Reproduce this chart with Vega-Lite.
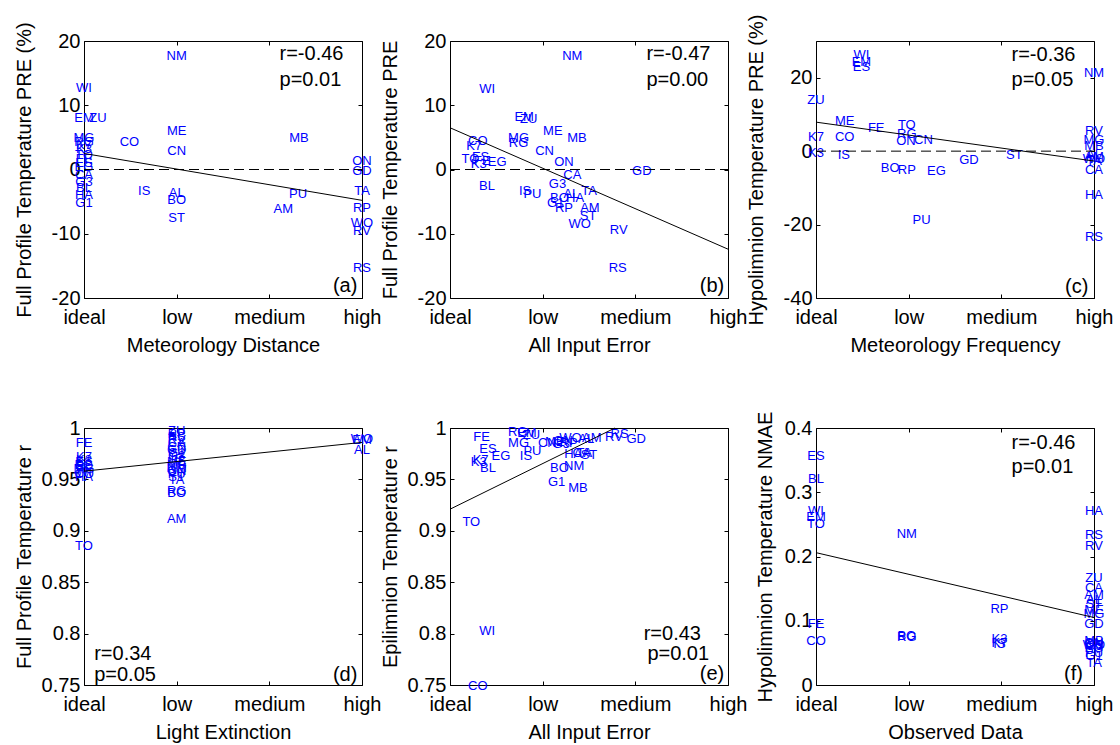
{
  "$schema": "https://vega.github.io/schema/vega-lite/v6.json",
  "padding": {"left": 13, "top": 13, "right": 0, "bottom": 0},
  "background": "white",
  "bounds": "flush",
  "spacing": {"row": 130, "column": 88},
  "columns": 3,
  "datasets": {
    "a": [
      {"site":"WI","x":0,"y":12.7},{"site":"EM","x":0,"y":8.0},{"site":"MG","x":0,"y":4.9},{"site":"RG","x":0,"y":4.3},
      {"site":"K7","x":0,"y":3.8},{"site":"K3","x":0,"y":3.2},{"site":"TO","x":0,"y":2.2},{"site":"FE","x":0,"y":1.6},
      {"site":"ES","x":0,"y":1.0},{"site":"EG","x":0,"y":0.4},{"site":"CA","x":0,"y":-0.9},{"site":"G3","x":0,"y":-2.0},
      {"site":"BL","x":0,"y":-2.9},{"site":"HA","x":0,"y":-3.9},{"site":"G1","x":0,"y":-5.2},
      {"site":"ZU","x":0.15,"y":8.0},{"site":"CO","x":0.49,"y":4.3},{"site":"IS","x":0.65,"y":-3.4},
      {"site":"NM","x":1,"y":17.7},{"site":"ME","x":1,"y":6.0},{"site":"CN","x":1,"y":2.9},{"site":"AL","x":1,"y":-3.6},
      {"site":"BO","x":1,"y":-4.8},{"site":"ST","x":1,"y":-7.5},
      {"site":"MB","x":2.32,"y":4.9},{"site":"PU","x":2.31,"y":-3.8},{"site":"AM","x":2.15,"y":-6.1},
      {"site":"ON","x":3,"y":1.4},{"site":"GD","x":3,"y":-0.3},{"site":"TA","x":3,"y":-3.3},{"site":"RP","x":3,"y":-6.0},
      {"site":"WO","x":3,"y":-8.3},{"site":"RV","x":3,"y":-9.5},{"site":"RS","x":3,"y":-15.3}
    ],
    "b": [
      {"site":"NM","x":1.32,"y":17.7},{"site":"WI","x":0.40,"y":12.6},{"site":"EM","x":0.80,"y":8.2},{"site":"ZU","x":0.85,"y":7.8},
      {"site":"ME","x":1.11,"y":6.0},{"site":"MB","x":1.37,"y":4.9},{"site":"MG","x":0.74,"y":4.9},{"site":"RG","x":0.74,"y":4.2},
      {"site":"CO","x":0.30,"y":4.4},{"site":"K7","x":0.26,"y":3.6},{"site":"CN","x":1.02,"y":2.9},{"site":"ON","x":1.23,"y":1.2},
      {"site":"TO","x":0.22,"y":1.6},{"site":"ES","x":0.33,"y":2.0},{"site":"FE","x":0.35,"y":1.4},{"site":"EG","x":0.51,"y":1.2},
      {"site":"K3","x":0.31,"y":0.8},{"site":"BL","x":0.40,"y":-2.6},{"site":"GD","x":2.07,"y":-0.3},{"site":"CA","x":1.32,"y":-0.8},
      {"site":"G3","x":1.16,"y":-2.2},{"site":"IS","x":0.81,"y":-3.3},{"site":"PU","x":0.89,"y":-3.8},{"site":"TA","x":1.50,"y":-3.4},
      {"site":"AL","x":1.31,"y":-3.8},{"site":"HA","x":1.35,"y":-4.4},{"site":"BO","x":1.18,"y":-4.4},{"site":"G1","x":1.14,"y":-5.2},
      {"site":"RP","x":1.23,"y":-6.0},{"site":"AM","x":1.51,"y":-6.0},{"site":"ST","x":1.49,"y":-7.3},{"site":"WO","x":1.40,"y":-8.5},
      {"site":"RV","x":1.82,"y":-9.4},{"site":"RS","x":1.81,"y":-15.3}
    ],
    "c": [
      {"site":"WI","x":0.49,"y":26.2},{"site":"EM","x":0.49,"y":24.4},{"site":"ES","x":0.49,"y":23.0},{"site":"NM","x":3,"y":21.3},
      {"site":"ZU","x":0,"y":14.0},{"site":"ME","x":0.31,"y":8.1},{"site":"FE","x":0.65,"y":6.3},{"site":"TO","x":0.98,"y":7.1},
      {"site":"RG","x":0.98,"y":4.7},{"site":"ON","x":0.97,"y":2.7},{"site":"CN","x":1.16,"y":2.9},{"site":"K7","x":0,"y":3.9},
      {"site":"CO","x":0.31,"y":3.8},{"site":"K3","x":0,"y":-0.5},{"site":"IS","x":0.30,"y":-1.1},{"site":"BO","x":0.80,"y":-4.7},
      {"site":"RP","x":0.98,"y":-5.2},{"site":"EG","x":1.30,"y":-5.4},{"site":"GD","x":1.65,"y":-2.3},{"site":"ST","x":2.14,"y":-1.1},
      {"site":"PU","x":1.14,"y":-18.8},{"site":"RV","x":3,"y":5.4},{"site":"MG","x":3,"y":2.9},{"site":"MB","x":3,"y":1.3},
      {"site":"AL","x":3,"y":-1.0},{"site":"AM","x":3,"y":-1.6},{"site":"WO","x":3,"y":-2.2},{"site":"TA","x":3,"y":-2.8},
      {"site":"CA","x":3,"y":-5.2},{"site":"HA","x":3,"y":-11.9},{"site":"RS","x":3,"y":-23.3}
    ],
    "d": [
      {"site":"FE","x":0,"y":0.985},{"site":"K7","x":0,"y":0.972},{"site":"K3","x":0,"y":0.969},{"site":"ES","x":0,"y":0.967},
      {"site":"EG","x":0,"y":0.964},{"site":"BL","x":0,"y":0.962},{"site":"MG","x":0,"y":0.960},{"site":"WI","x":0,"y":0.957},
      {"site":"CO","x":0,"y":0.955},{"site":"HA","x":0,"y":0.952},{"site":"TO","x":0,"y":0.885},
      {"site":"ZU","x":1,"y":0.997},{"site":"RP","x":1,"y":0.994},{"site":"RS","x":1,"y":0.991},{"site":"RV","x":1,"y":0.988},
      {"site":"CA","x":1,"y":0.985},{"site":"CN","x":1,"y":0.982},{"site":"GD","x":1,"y":0.979},{"site":"G1","x":1,"y":0.976},
      {"site":"G3","x":1,"y":0.973},{"site":"IS","x":1,"y":0.970},{"site":"ME","x":1,"y":0.967},{"site":"MB","x":1,"y":0.964},
      {"site":"NM","x":1,"y":0.961},{"site":"ON","x":1,"y":0.958},{"site":"PU","x":1,"y":0.955},{"site":"ST","x":1,"y":0.952},
      {"site":"TA","x":1,"y":0.949},{"site":"RG","x":1,"y":0.939},{"site":"BO","x":1,"y":0.937},{"site":"AM","x":1,"y":0.911},
      {"site":"WO","x":3,"y":0.989},{"site":"EM","x":3,"y":0.988},{"site":"AL","x":3,"y":0.979}
    ],
    "e": [
      {"site":"FE","x":0.34,"y":0.991},{"site":"ES","x":0.41,"y":0.980},{"site":"EG","x":0.55,"y":0.973},{"site":"K3","x":0.31,"y":0.967},
      {"site":"K7","x":0.33,"y":0.969},{"site":"BL","x":0.41,"y":0.961},{"site":"MG","x":0.74,"y":0.985},{"site":"RG","x":0.73,"y":0.996},
      {"site":"EM","x":0.83,"y":0.995},{"site":"ZU","x":0.88,"y":0.993},{"site":"IS","x":0.82,"y":0.973},{"site":"PU","x":0.89,"y":0.978},
      {"site":"CN","x":1.05,"y":0.985},{"site":"ME","x":1.13,"y":0.986},{"site":"ON","x":1.22,"y":0.987},{"site":"G3","x":1.20,"y":0.984},
      {"site":"RP","x":1.28,"y":0.985},{"site":"WO","x":1.30,"y":0.990},{"site":"AM","x":1.53,"y":0.990},{"site":"CA","x":1.42,"y":0.976},
      {"site":"HA","x":1.33,"y":0.975},{"site":"TA","x":1.45,"y":0.976},{"site":"ST","x":1.50,"y":0.974},{"site":"AL","x":1.47,"y":0.989},
      {"site":"BO","x":1.18,"y":0.961},{"site":"NM","x":1.34,"y":0.963},{"site":"G1","x":1.15,"y":0.947},{"site":"MB","x":1.38,"y":0.942},
      {"site":"RS","x":1.83,"y":0.9945},{"site":"RV","x":1.77,"y":0.991},{"site":"GD","x":2.01,"y":0.989},{"site":"TO","x":0.23,"y":0.909},
      {"site":"WI","x":0.40,"y":0.803},{"site":"CO","x":0.30,"y":0.749}
    ],
    "f": [
      {"site":"ES","x":0,"y":0.356},{"site":"BL","x":0,"y":0.321},{"site":"WI","x":0,"y":0.271},{"site":"EM","x":0,"y":0.262},
      {"site":"TO","x":0,"y":0.250},{"site":"FE","x":0,"y":0.095},{"site":"CO","x":0,"y":0.068},
      {"site":"NM","x":0.98,"y":0.235},{"site":"BO","x":0.98,"y":0.076},{"site":"RG","x":0.98,"y":0.074},
      {"site":"RP","x":1.98,"y":0.118},{"site":"K3","x":1.98,"y":0.072},{"site":"K7","x":1.98,"y":0.066},{"site":"IS","x":1.98,"y":0.064},
      {"site":"HA","x":3,"y":0.271},{"site":"RS","x":3,"y":0.233},{"site":"RV","x":3,"y":0.217},{"site":"ZU","x":3,"y":0.166},
      {"site":"CA","x":3,"y":0.151},{"site":"AM","x":3,"y":0.140},{"site":"AL","x":3,"y":0.133},{"site":"ST","x":3,"y":0.126},
      {"site":"ME","x":3,"y":0.116},{"site":"MG","x":3,"y":0.110},{"site":"GD","x":3,"y":0.095},{"site":"MB","x":3,"y":0.068},
      {"site":"ON","x":3,"y":0.066},{"site":"CN","x":3,"y":0.064},{"site":"WO","x":3,"y":0.062},{"site":"G3","x":3,"y":0.060},
      {"site":"EG","x":3,"y":0.058},{"site":"PU","x":3,"y":0.050},{"site":"G1","x":3,"y":0.045},{"site":"TA","x":3,"y":0.035}
    ]
  },
  "concat": [
    {
      "width": 278, "height": 257,
      "resolve": {"axis": {"x": "independent", "y": "independent"}},
      "layer": [
        {
          "encoding": {
            "x":{"field":"x","type":"quantitative","scale":{"domain":[0,3],"nice":false,"zero":false},"axis":{"values":[0,1,2,3],"labelExpr":"['ideal','low','medium','high'][datum.value]","title":"Meteorology Distance","titleY":37,"titleBaseline":"top"}},
            "y":{"field":"y","type":"quantitative","scale":{"domain":[-20,20],"nice":false,"zero":false},"axis":{"values":[-20,-10,0,10,20],"labelExpr":"''+datum.value","title":"Full Profile Temperature PRE (%)","titleX":-50}}
          },
          "layer": [
            {"data":{"name":"a"},"mark":{"type":"text","fontSize":13,"color":"#0000ff","align":"center","baseline":"middle"},"encoding":{"text":{"field":"site"}}},
            {"data":{"values":[{"x":0,"y":0,"x2":3,"y2":0}]},"mark":{"type":"rule","color":"black","strokeWidth":1,"strokeDash":[10,5]},"encoding":{"x2":{"field":"x2"},"y2":{"field":"y2"}}},
            {"data":{"values":[{"x":0,"y":2.5,"x2":3,"y2":-4.8}]},"mark":{"type":"rule","color":"black","strokeWidth":1},"encoding":{"x2":{"field":"x2"},"y2":{"field":"y2"}}},
            {"data":{"values":[{"x":2.11,"y":17.9,"t":"r=-0.46"},{"x":2.11,"y":14.0,"t":"p=0.01"}]},"mark":{"type":"text","align":"left","baseline":"middle","fontSize":20,"color":"black"},"encoding":{"text":{"field":"t"}}},
            {"data":{"values":[{"x":2.95,"y":-18.2,"t":"(a)"}]},"mark":{"type":"text","align":"right","baseline":"middle","fontSize":20,"color":"black"},"encoding":{"text":{"field":"t"}}}
          ]
        },
        {"data":{"name":"a"},"mark":{"type":"point","opacity":0},
         "encoding":{
           "x":{"field":"x","type":"quantitative","axis":{"orient":"top","values":[0,1,2,3],"labels":false,"title":null}},
           "y":{"field":"y","type":"quantitative","axis":{"orient":"right","values":[-20,-10,0,10,20],"labels":false,"title":null}}}}
      ]
    },
    {
      "width": 278, "height": 257,
      "resolve": {"axis": {"x": "independent", "y": "independent"}},
      "layer": [
        {
          "encoding": {
            "x":{"field":"x","type":"quantitative","scale":{"domain":[0,3],"nice":false,"zero":false},"axis":{"values":[0,1,2,3],"labelExpr":"['ideal','low','medium','high'][datum.value]","title":"All Input Error","titleY":37,"titleBaseline":"top"}},
            "y":{"field":"y","type":"quantitative","scale":{"domain":[-20,20],"nice":false,"zero":false},"axis":{"values":[-20,-10,0,10,20],"labelExpr":"''+datum.value","title":"Full Profile Temperature PRE","titleX":-50}}
          },
          "layer": [
            {"data":{"name":"b"},"mark":{"type":"text","fontSize":13,"color":"#0000ff","align":"center","baseline":"middle"},"encoding":{"text":{"field":"site"}}},
            {"data":{"values":[{"x":0,"y":0,"x2":3,"y2":0}]},"mark":{"type":"rule","color":"black","strokeWidth":1,"strokeDash":[10,5]},"encoding":{"x2":{"field":"x2"},"y2":{"field":"y2"}}},
            {"data":{"values":[{"x":0,"y":6.5,"x2":3,"y2":-12.4}]},"mark":{"type":"rule","color":"black","strokeWidth":1},"encoding":{"x2":{"field":"x2"},"y2":{"field":"y2"}}},
            {"data":{"values":[{"x":2.12,"y":17.9,"t":"r=-0.47"},{"x":2.12,"y":14.0,"t":"p=0.00"}]},"mark":{"type":"text","align":"left","baseline":"middle","fontSize":20,"color":"black"},"encoding":{"text":{"field":"t"}}},
            {"data":{"values":[{"x":2.96,"y":-18.2,"t":"(b)"}]},"mark":{"type":"text","align":"right","baseline":"middle","fontSize":20,"color":"black"},"encoding":{"text":{"field":"t"}}}
          ]
        },
        {"data":{"name":"b"},"mark":{"type":"point","opacity":0},
         "encoding":{
           "x":{"field":"x","type":"quantitative","axis":{"orient":"top","values":[0,1,2,3],"labels":false,"title":null}},
           "y":{"field":"y","type":"quantitative","axis":{"orient":"right","values":[-20,-10,0,10,20],"labels":false,"title":null}}}}
      ]
    },
    {
      "width": 278, "height": 257,
      "resolve": {"axis": {"x": "independent", "y": "independent"}},
      "layer": [
        {
          "encoding": {
            "x":{"field":"x","type":"quantitative","scale":{"domain":[0,3],"nice":false,"zero":false},"axis":{"values":[0,1,2,3],"labelExpr":"['ideal','low','medium','high'][datum.value]","title":"Meteorology Frequency","titleY":37,"titleBaseline":"top"}},
            "y":{"field":"y","type":"quantitative","scale":{"domain":[-40,30],"nice":false,"zero":false},"axis":{"values":[-40,-20,0,20],"labelExpr":"''+datum.value","title":"Hypolimnion Temperature PRE (%)","titleX":-50}}
          },
          "layer": [
            {"data":{"name":"c"},"mark":{"type":"text","fontSize":13,"color":"#0000ff","align":"center","baseline":"middle"},"encoding":{"text":{"field":"site"}}},
            {"data":{"values":[{"x":0,"y":0,"x2":3,"y2":0}]},"mark":{"type":"rule","color":"black","strokeWidth":1,"strokeDash":[10,5]},"encoding":{"x2":{"field":"x2"},"y2":{"field":"y2"}}},
            {"data":{"values":[{"x":0,"y":7.9,"x2":3,"y2":-2.7}]},"mark":{"type":"rule","color":"black","strokeWidth":1},"encoding":{"x2":{"field":"x2"},"y2":{"field":"y2"}}},
            {"data":{"values":[{"x":2.11,"y":26.2,"t":"r=-0.36"},{"x":2.11,"y":19.5,"t":"p=0.05"}]},"mark":{"type":"text","align":"left","baseline":"middle","fontSize":20,"color":"black"},"encoding":{"text":{"field":"t"}}},
            {"data":{"values":[{"x":2.94,"y":-36.9,"t":"(c)"}]},"mark":{"type":"text","align":"right","baseline":"middle","fontSize":20,"color":"black"},"encoding":{"text":{"field":"t"}}}
          ]
        },
        {"data":{"name":"c"},"mark":{"type":"point","opacity":0},
         "encoding":{
           "x":{"field":"x","type":"quantitative","axis":{"orient":"top","values":[0,1,2,3],"labels":false,"title":null}},
           "y":{"field":"y","type":"quantitative","axis":{"orient":"right","values":[-40,-20,0,20],"labels":false,"title":null}}}}
      ]
    },
    {
      "width": 278, "height": 257,
      "resolve": {"axis": {"x": "independent", "y": "independent"}},
      "layer": [
        {
          "encoding": {
            "x":{"field":"x","type":"quantitative","scale":{"domain":[0,3],"nice":false,"zero":false},"axis":{"values":[0,1,2,3],"labelExpr":"['ideal','low','medium','high'][datum.value]","title":"Light Extinction","titleY":37,"titleBaseline":"top"}},
            "y":{"field":"y","type":"quantitative","scale":{"domain":[0.75,1],"nice":false,"zero":false},"axis":{"values":[0.75,0.8,0.85,0.9,0.95,1],"labelExpr":"''+datum.value","title":"Full Profile Temperature r","titleX":-50}}
          },
          "layer": [
            {"data":{"name":"d"},"mark":{"type":"text","fontSize":13,"color":"#0000ff","align":"center","baseline":"middle"},"encoding":{"text":{"field":"site"}}},
            {"data":{"values":[{"x":0,"y":0.958,"x2":3,"y2":0.986}]},"mark":{"type":"rule","color":"black","strokeWidth":1},"encoding":{"x2":{"field":"x2"},"y2":{"field":"y2"}}},
            {"data":{"values":[{"x":0.11,"y":0.780,"t":"r=0.34"},{"x":0.11,"y":0.760,"t":"p=0.05"}]},"mark":{"type":"text","align":"left","baseline":"middle","fontSize":20,"color":"black"},"encoding":{"text":{"field":"t"}}},
            {"data":{"values":[{"x":2.95,"y":0.760,"t":"(d)"}]},"mark":{"type":"text","align":"right","baseline":"middle","fontSize":20,"color":"black"},"encoding":{"text":{"field":"t"}}}
          ]
        },
        {"data":{"name":"d"},"mark":{"type":"point","opacity":0},
         "encoding":{
           "x":{"field":"x","type":"quantitative","axis":{"orient":"top","values":[0,1,2,3],"labels":false,"title":null}},
           "y":{"field":"y","type":"quantitative","axis":{"orient":"right","values":[0.75,0.8,0.85,0.9,0.95,1],"labels":false,"title":null}}}}
      ]
    },
    {
      "width": 278, "height": 257,
      "resolve": {"axis": {"x": "independent", "y": "independent"}},
      "layer": [
        {
          "encoding": {
            "x":{"field":"x","type":"quantitative","scale":{"domain":[0,3],"nice":false,"zero":false},"axis":{"values":[0,1,2,3],"labelExpr":"['ideal','low','medium','high'][datum.value]","title":"All Input Error","titleY":37,"titleBaseline":"top"}},
            "y":{"field":"y","type":"quantitative","scale":{"domain":[0.75,1],"nice":false,"zero":false},"axis":{"values":[0.75,0.8,0.85,0.9,0.95,1],"labelExpr":"''+datum.value","title":"Epilimnion Temperature r","titleX":-50}}
          },
          "layer": [
            {"data":{"name":"e"},"mark":{"type":"text","fontSize":13,"color":"#0000ff","align":"center","baseline":"middle"},"encoding":{"text":{"field":"site"}}},
            {"data":{"values":[{"x":0,"y":0.921,"x2":1.78,"y2":1.0}]},"mark":{"type":"rule","color":"black","strokeWidth":1},"encoding":{"x2":{"field":"x2"},"y2":{"field":"y2"}}},
            {"data":{"values":[{"x":2.09,"y":0.7995,"t":"r=0.43"},{"x":2.13,"y":0.780,"t":"p=0.01"}]},"mark":{"type":"text","align":"left","baseline":"middle","fontSize":20,"color":"black"},"encoding":{"text":{"field":"t"}}},
            {"data":{"values":[{"x":2.96,"y":0.7607,"t":"(e)"}]},"mark":{"type":"text","align":"right","baseline":"middle","fontSize":20,"color":"black"},"encoding":{"text":{"field":"t"}}}
          ]
        },
        {"data":{"name":"e"},"mark":{"type":"point","opacity":0},
         "encoding":{
           "x":{"field":"x","type":"quantitative","axis":{"orient":"top","values":[0,1,2,3],"labels":false,"title":null}},
           "y":{"field":"y","type":"quantitative","axis":{"orient":"right","values":[0.75,0.8,0.85,0.9,0.95,1],"labels":false,"title":null}}}}
      ]
    },
    {
      "width": 278, "height": 257,
      "resolve": {"axis": {"x": "independent", "y": "independent"}},
      "layer": [
        {
          "encoding": {
            "x":{"field":"x","type":"quantitative","scale":{"domain":[0,3],"nice":false,"zero":false},"axis":{"values":[0,1,2,3],"labelExpr":"['ideal','low','medium','high'][datum.value]","title":"Observed Data","titleY":37,"titleBaseline":"top"}},
            "y":{"field":"y","type":"quantitative","scale":{"domain":[0,0.4],"nice":false,"zero":false},"axis":{"values":[0,0.1,0.2,0.3,0.4],"labelExpr":"''+datum.value","title":"Hypolimnion Temperature NMAE","titleX":-41}}
          },
          "layer": [
            {"data":{"name":"f"},"mark":{"type":"text","fontSize":13,"color":"#0000ff","align":"center","baseline":"middle"},"encoding":{"text":{"field":"site"}}},
            {"data":{"values":[{"x":0,"y":0.206,"x2":3,"y2":0.105}]},"mark":{"type":"rule","color":"black","strokeWidth":1},"encoding":{"x2":{"field":"x2"},"y2":{"field":"y2"}}},
            {"data":{"values":[{"x":2.11,"y":0.377,"t":"r=-0.46"},{"x":2.11,"y":0.339,"t":"p=0.01"}]},"mark":{"type":"text","align":"left","baseline":"middle","fontSize":20,"color":"black"},"encoding":{"text":{"field":"t"}}},
            {"data":{"values":[{"x":2.88,"y":0.017,"t":"(f)"}]},"mark":{"type":"text","align":"right","baseline":"middle","fontSize":20,"color":"black"},"encoding":{"text":{"field":"t"}}}
          ]
        },
        {"data":{"name":"f"},"mark":{"type":"point","opacity":0},
         "encoding":{
           "x":{"field":"x","type":"quantitative","axis":{"orient":"top","values":[0,1,2,3],"labels":false,"title":null}},
           "y":{"field":"y","type":"quantitative","axis":{"orient":"right","values":[0,0.1,0.2,0.3,0.4],"labels":false,"title":null}}}}
      ]
    }
  ],
  "config": {
    "view": {"stroke": "black", "strokeWidth": 1},
    "text": {"font": "Liberation Sans"},
    "axis": {
      "domain": false, "grid": false, "ticks": true, "tickColor": "black", "tickSize": -4, "tickWidth": 1,
      "labelFont": "Liberation Sans", "labelFontSize": 20, "labelColor": "black",
      "titleFont": "Liberation Sans", "titleFontSize": 20, "titleFontWeight": "normal", "titleColor": "black",
      "labelFlush": false, "labelOverlap": false
    },
    "axisX": {"labelPadding": 13},
    "axisY": {"labelPadding": 8}
  }
}
